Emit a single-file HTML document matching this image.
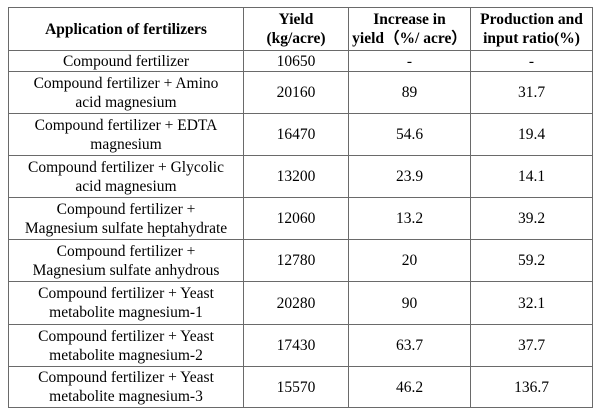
<!DOCTYPE html>
<html><head><style>
body{margin:0;background:#fff;width:600px;height:415px;overflow:hidden}
table{position:absolute;left:8px;top:7px;border-collapse:collapse;font-family:"Liberation Serif",serif;font-size:15.5px;color:#000;table-layout:fixed}
td{border:1px solid #6a6a6a;text-align:center;vertical-align:middle;padding:0;line-height:19px;white-space:nowrap}
th{border:1px solid #6a6a6a;font-weight:bold;line-height:19px;padding:0;white-space:nowrap}
</style></head><body>
<table>
<colgroup><col style="width:235px"><col style="width:105px"><col style="width:122px"><col style="width:122px"></colgroup>
<tr style="height:43px"><th>Application of fertilizers</th><th>Yield<br>(kg/acre)</th><th>Increase in<br>yield（%/ acre）</th><th>Production and<br>input ratio(%)</th></tr>
<tr style="height:21px"><td>Compound fertilizer</td><td>10650</td><td>-</td><td>-</td></tr>
<tr style="height:42px"><td>Compound fertilizer + Amino<br>acid magnesium</td><td>20160</td><td>89</td><td>31.7</td></tr>
<tr style="height:42px"><td>Compound fertilizer + EDTA<br>magnesium</td><td>16470</td><td>54.6</td><td>19.4</td></tr>
<tr style="height:42px"><td>Compound fertilizer + Glycolic<br>acid magnesium</td><td>13200</td><td>23.9</td><td>14.1</td></tr>
<tr style="height:42px"><td>Compound fertilizer +<br>Magnesium sulfate heptahydrate</td><td>12060</td><td>13.2</td><td>39.2</td></tr>
<tr style="height:42px"><td>Compound fertilizer +<br>Magnesium sulfate anhydrous</td><td>12780</td><td>20</td><td>59.2</td></tr>
<tr style="height:43px"><td>Compound fertilizer + Yeast<br>metabolite magnesium-1</td><td>20280</td><td>90</td><td>32.1</td></tr>
<tr style="height:42px"><td>Compound fertilizer + Yeast<br>metabolite magnesium-2</td><td>17430</td><td>63.7</td><td>37.7</td></tr>
<tr style="height:41px"><td>Compound fertilizer + Yeast<br>metabolite magnesium-3</td><td>15570</td><td>46.2</td><td>136.7</td></tr>
</table>
</body></html>
